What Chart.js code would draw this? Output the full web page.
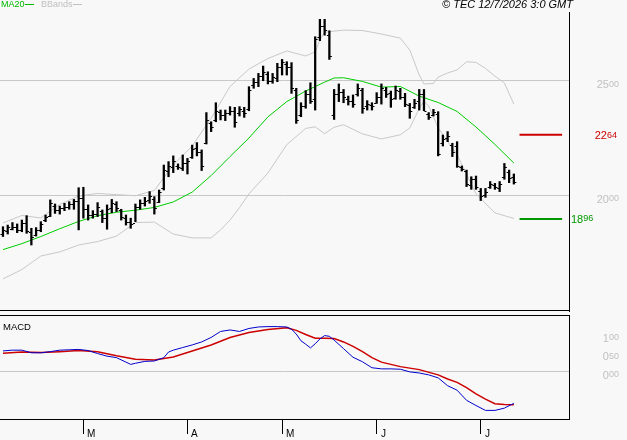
<!DOCTYPE html>
<html>
<head>
<meta charset="utf-8">
<script src="https://cdn.jsdelivr.net/npm/chart.js@4.4.0/dist/chart.umd.min.js"></script>
<style>
    html, body { margin: 0; padding: 0; background: #f8f8f8; }
    #wrap { position: relative; width: 627px; height: 440px; overflow: hidden; }
    #chart-price { position: absolute; left: 0; top: 0; }
    #chart-macd { position: absolute; left: 0; top: 312px; }
</style>
</head>
<body>
<div id="wrap">
    <canvas id="chart-price" width="627" height="316"></canvas>
    <canvas id="chart-macd" width="627" height="128"></canvas>
</div>
<script>
// Daily bars, Feb 5 -> Jul 10 (x = bar index)
const monthTicks = [17, 39, 59, 79, 101];
const monthLabels = ['M', 'A', 'M', 'J', 'J'];
const priceTicks = [2000, 2500];
const macdTicks = [0, 50, 100];

const highs = [
    1863, 1870, 1881, 1875, 1892, 1911, 1856, 1859, 1885, 1914,
    1980, 1962, 1953, 1965, 1972, 1982, 2033, 2035, 1958, 1933,
    1968, 1936, 1958, 1982, 1972, 1939, 1914, 1900, 1962, 1980,
    1991, 2016, 1994, 2023, 2132, 2147, 2172, 2137, 2176, 2161,
    2219, 2230, 2198, 2361, 2321, 2404, 2372, 2372, 2387, 2384,
    2387, 2384, 2474, 2510, 2532, 2564, 2539, 2532, 2576, 2593,
    2583, 2579, 2467, 2404, 2457, 2491, 2692, 2768, 2768, 2718,
    2462, 2486, 2462, 2433, 2438, 2486, 2467, 2413, 2404, 2448,
    2486, 2471, 2455, 2477, 2467, 2445, 2401, 2419, 2462, 2462,
    2361, 2375, 2365, 2263, 2278, 2227, 2234, 2128, 2110, 2081,
    2084, 2030, 2030, 2060, 2052, 2060, 2139, 2110, 2093
];
const lows = [
    1820, 1831, 1849, 1837, 1841, 1834, 1783, 1822, 1841, 1885,
    1907, 1921, 1918, 1933, 1939, 1939, 1849, 1900, 1892, 1900,
    1907, 1881, 1852, 1924, 1929, 1892, 1870, 1856, 1885, 1939,
    1953, 1965, 1918, 1968, 2023, 2081, 2099, 2113, 2108, 2093,
    2161, 2172, 2108, 2224, 2278, 2321, 2329, 2326, 2350, 2297,
    2346, 2340, 2369, 2467, 2474, 2500, 2486, 2489, 2496, 2525,
    2525, 2445, 2314, 2343, 2380, 2401, 2372, 2675, 2699, 2593,
    2331, 2409, 2404, 2394, 2384, 2433, 2358, 2372, 2372, 2401,
    2398, 2427, 2384, 2419, 2419, 2387, 2336, 2379, 2372, 2369,
    2331, 2346, 2172, 2215, 2234, 2169, 2122, 2106, 2038, 2026,
    2026, 1977, 1991, 2030, 2026, 2016, 2070, 2055, 2049
];
const opens = [
    1830, 1845, 1855, 1860, 1850, 1880, 1840, 1825, 1850, 1890,
    1910, 1955, 1935, 1945, 1950, 1960, 1975, 1990, 1940, 1915,
    1920, 1930, 1900, 1945, 1960, 1935, 1900, 1885, 1880, 1950,
    1965, 1980, 1985, 1970, 2030, 2105, 2125, 2130, 2120, 2140,
    2165, 2205, 2190, 2230, 2315, 2330, 2365, 2350, 2360, 2370,
    2360, 2370, 2375, 2480, 2495, 2520, 2530, 2500, 2510, 2560,
    2575, 2560, 2460, 2350, 2390, 2440, 2420, 2690, 2740, 2700,
    2350, 2440, 2450, 2420, 2410, 2440, 2460, 2390, 2395, 2405,
    2430, 2460, 2445, 2425, 2455, 2430, 2395, 2385, 2410, 2440,
    2355, 2350, 2355, 2230, 2250, 2220, 2215, 2125, 2105, 2045,
    2070, 2020, 2000, 2035, 2045, 2030, 2080, 2100, 2080
];
const closes = [
    1850, 1860, 1862, 1850, 1880, 1845, 1820, 1850, 1875, 1905,
    1965, 1935, 1945, 1950, 1960, 1975, 1990, 1940, 1915, 1920,
    1950, 1900, 1940, 1965, 1945, 1905, 1885, 1875, 1950, 1965,
    1975, 1995, 1945, 2015, 2110, 2130, 2150, 2125, 2140, 2150,
    2200, 2190, 2130, 2330, 2300, 2370, 2350, 2360, 2370, 2320,
    2375, 2360, 2460, 2495, 2520, 2540, 2500, 2515, 2560, 2580,
    2560, 2470, 2330, 2390, 2440, 2410, 2680, 2740, 2720, 2610,
    2440, 2450, 2430, 2410, 2400, 2470, 2380, 2400, 2390, 2430,
    2470, 2440, 2420, 2460, 2430, 2400, 2370, 2405, 2440, 2370,
    2340, 2365, 2180, 2245, 2260, 2190, 2130, 2115, 2050, 2070,
    2035, 1995, 2015, 2050, 2035, 2050, 2125, 2075, 2060
];

const maIdx = [0, 4, 8, 12, 16, 20, 24, 28, 32, 36, 40, 44, 48, 52, 56, 60, 64, 68, 70, 72, 76, 80, 84, 88, 92, 96, 100, 104, 108];
const maVals = [1763, 1789, 1820, 1854, 1886, 1911, 1926, 1935, 1947, 1971, 2014, 2086, 2169, 2250, 2342, 2409, 2455, 2494, 2512, 2513, 2497, 2472, 2475, 2433, 2405, 2366, 2298, 2222, 2141];

const upperIdx = [0, 4, 8, 12, 16, 20, 24, 28, 32, 36, 40, 44, 48, 52, 56, 60, 64, 66, 67, 68, 72, 76, 80, 84, 86, 88, 89, 91, 92, 94, 96, 98, 100, 102, 104, 106, 108];
const upperVals = [1879, 1912, 1901, 1960, 1997, 2008, 2003, 1998, 2021, 2132, 2215, 2337, 2475, 2551, 2597, 2630, 2608, 2626, 2678, 2712, 2721, 2719, 2704, 2686, 2634, 2525, 2486, 2488, 2516, 2534, 2547, 2583, 2580, 2554, 2520, 2490, 2398];

const lowerIdx = [0, 4, 8, 12, 16, 20, 24, 28, 32, 36, 40, 44, 46, 48, 50, 52, 56, 60, 64, 66, 68, 70, 72, 76, 80, 84, 86, 88, 89, 90, 92, 96, 100, 104, 108];
const lowerVals = [1635, 1676, 1735, 1753, 1783, 1798, 1822, 1881, 1883, 1831, 1814, 1814, 1849, 1892, 1946, 2006, 2097, 2221, 2292, 2299, 2269, 2297, 2308, 2268, 2246, 2264, 2294, 2379, 2411, 2390, 2294, 2177, 2007, 1923, 1899];

const resistance = 2264;
const support = 1896;

const macdIdx = [0, 2, 4, 6, 8, 10, 12, 14, 16, 18, 20, 22, 24, 26, 27, 28, 30, 32, 34, 35, 36, 38, 40, 42, 44, 46, 48, 50, 52, 54, 56, 58, 60, 61, 62, 63, 64, 65, 66, 67, 68, 69, 70, 72, 74, 76, 78, 80, 82, 84, 86, 88, 90, 92, 94, 96, 98, 100, 102, 104, 106, 108];
const macdVals = [55, 57, 57, 50, 50, 53, 57, 58, 59, 56, 48, 41, 37, 25, 19, 22, 27, 28, 37, 52, 57, 64, 71, 79, 91, 107, 111, 107, 115, 119, 120, 120, 119, 113, 100, 82, 73, 63, 74, 87, 96, 94, 84, 61, 38, 26, 10, 7, 7, 6, -1, -4, -9, -17, -38, -50, -77, -91, -104, -104, -98, -85];

const signalIdx = [0, 4, 8, 12, 16, 20, 24, 28, 32, 36, 40, 44, 48, 52, 56, 60, 62, 64, 66, 68, 70, 72, 74, 76, 78, 80, 84, 88, 92, 94, 96, 98, 100, 102, 104, 106, 108];
const signalVals = [49, 52, 51, 53, 56, 53, 42, 33, 31, 39, 55, 71, 91, 104, 112, 117, 110, 99, 89, 89, 88, 79, 67, 53, 37, 25, 13, 5, -9, -20, -29, -43, -60, -74, -86, -88, -89];

const X_MIN = -0.63;
const X_MAX = 119.66;
const FONT = '"Liberation Sans", Arial, sans-serif';
const LABEL_GREY = '#c0c0c0';

const pts = (idx, vals) => idx.map((x, k) => ({ x, y: vals[k] }));

// "2500" style label: last two digits drawn smaller
function splitLabel(ctx, text, x, top, color, align) {
    const head = text.slice(0, -2);
    const tail = text.slice(-2);
    ctx.font = `11px ${FONT}`;
    const wh = ctx.measureText(head).width;
    ctx.font = `9px ${FONT}`;
    const wt = ctx.measureText(tail).width;
    const x0 = align === 'right' ? x - wh - wt : x;
    ctx.fillStyle = color;
    ctx.textAlign = 'left';
    ctx.textBaseline = 'top';
    ctx.font = `11px ${FONT}`;
    ctx.fillText(head, x0, top);
    ctx.font = `9px ${FONT}`;
    ctx.fillText(tail, x0 + wh, top);
}

const priceExtras = {
    id: 'priceExtras',
    afterDatasetsDraw(chart) {
        const { ctx, scales: { x, y } } = chart;
        ctx.save();
        ctx.fillStyle = '#000';
        opens.forEach((o, i) => {
            const px = x.getPixelForValue(i);
            ctx.fillRect(px - 2.5, Math.round(y.getPixelForValue(o)), 2, 1);
            ctx.fillRect(px + 0.5, Math.round(y.getPixelForValue(closes[i])), 2, 1);
        });
        ctx.restore();
    },
    afterDraw(chart) {
        const { ctx, chartArea: a, scales: { y } } = chart;
        ctx.save();
        ctx.fillStyle = '#000';
        ctx.fillRect(a.left, Math.round(a.bottom) - 1, a.right - a.left, 1);

        priceTicks.forEach(v => splitLabel(ctx, String(v), 619, y.getPixelForValue(v) - 1, LABEL_GREY, 'right'));
        splitLabel(ctx, String(resistance), 617, y.getPixelForValue(resistance) - 4, '#cc0000', 'right');
        splitLabel(ctx, String(support), a.right + 2, y.getPixelForValue(support) - 5, '#009900', 'left');

        // legend
        ctx.textBaseline = 'middle';
        ctx.textAlign = 'left';
        ctx.font = `9px ${FONT}`;
        ctx.fillStyle = '#00bb00';
        ctx.fillText('MA20', 1, 5);
        ctx.fillRect(25, 4, 9, 1);
        ctx.fillStyle = LABEL_GREY;
        ctx.fillText('BBands', 41, 5);
        ctx.fillRect(73, 4, 9, 1);

        ctx.fillStyle = '#000';
        ctx.font = `italic 11px ${FONT}`;
        ctx.fillText('\u00a9 TEC 12/7/2026 3:0 GMT', 442, 5);
        ctx.restore();
    }
};

const macdExtras = {
    id: 'macdExtras',
    afterDraw(chart) {
        const { ctx, chartArea: a, scales: { x, y } } = chart;
        ctx.save();
        ctx.fillStyle = '#000';
        ctx.fillRect(a.left, Math.round(a.top), a.right - a.left, 1);

        ctx.font = `9.5px ${FONT}`;
        ctx.textBaseline = 'middle';
        ctx.fillText('MACD', 3, a.top + 12);

        macdTicks.forEach(v => {
            const txt = v === 0 ? '000' : v < 100 ? '0' + v : String(v);
            splitLabel(ctx, txt, 619, y.getPixelForValue(v) - 1, LABEL_GREY, 'right');
        });

        ctx.fillStyle = '#000';
        ctx.font = `10px ${FONT}`;
        ctx.textBaseline = 'bottom';
        monthTicks.forEach((v, k) => ctx.fillText(monthLabels[k], Math.round(x.getPixelForValue(v)) + 4, 127));
        ctx.restore();
    }
};

new Chart(document.getElementById('chart-price'), {
    type: 'line',
    data: {
        datasets: [
            { type: 'bar', label: 'Price', data: highs.map((h, i) => ({ x: i, y: [lows[i], h] })), backgroundColor: '#000', barThickness: 1.6, borderWidth: 0 },
            { label: 'MA20', data: pts(maIdx, maVals), borderColor: '#00cc00', borderWidth: 1, pointRadius: 0 },
            { label: 'BBands upper', data: pts(upperIdx, upperVals), borderColor: '#c8c8c8', borderWidth: 1, pointRadius: 0 },
            { label: 'BBands lower', data: pts(lowerIdx, lowerVals), borderColor: '#c8c8c8', borderWidth: 1, pointRadius: 0 },
            { label: 'Resistance', data: [{ x: 109.2, y: resistance }, { x: 118.2, y: resistance }], borderColor: '#cc0000', borderWidth: 2, pointRadius: 0 },
            { label: 'Support', data: [{ x: 109.2, y: support }, { x: 118.2, y: support }], borderColor: '#009900', borderWidth: 2, pointRadius: 0 }
        ]
    },
    options: {
        responsive: false,
        animation: false,
        layout: { padding: { top: 12, bottom: 5, left: 0, right: 0 } },
        plugins: { legend: { display: false }, tooltip: { enabled: false } },
        scales: {
            x: { type: 'linear', min: X_MIN, max: X_MAX, offset: false, display: false },
            y: {
                position: 'right',
                min: 1495,
                max: 2800,
                afterBuildTicks: s => { s.ticks = priceTicks.map(v => ({ value: v })); },
                afterFit: s => { s.width = 58; },
                ticks: { display: false },
                grid: { color: '#c8c8c8', drawTicks: false },
                border: { display: true, color: '#000' }
            }
        }
    },
    plugins: [priceExtras]
});

new Chart(document.getElementById('chart-macd'), {
    type: 'line',
    data: {
        datasets: [
            { label: 'MACD', data: pts(macdIdx, macdVals), borderColor: '#0000cc', borderWidth: 1, pointRadius: 0 },
            { label: 'Signal', data: pts(signalIdx, signalVals), borderColor: '#cc0000', borderWidth: 1.5, pointRadius: 0 }
        ]
    },
    options: {
        responsive: false,
        animation: false,
        layout: { padding: { top: 3, bottom: 0, left: 0, right: 0 } },
        plugins: { legend: { display: false }, tooltip: { enabled: false } },
        scales: {
            x: {
                type: 'linear', min: X_MIN, max: X_MAX, offset: false,
                afterBuildTicks: s => { s.ticks = monthTicks.map(v => ({ value: v })); },
                afterFit: s => { s.height = 21; },
                ticks: { display: false },
                grid: { drawOnChartArea: false, drawTicks: true, tickLength: 15, color: '#000' },
                border: { display: true, color: '#000' }
            },
            y: {
                position: 'right',
                min: -127,
                max: 151,
                afterBuildTicks: s => { s.ticks = macdTicks.map(v => ({ value: v })); },
                afterFit: s => { s.width = 58; },
                ticks: { display: false },
                grid: { color: c => (c.tick && c.tick.value === 0 ? '#c8c8c8' : 'rgba(0,0,0,0)'), drawTicks: false },
                border: { display: true, color: '#000' }
            }
        }
    },
    plugins: [macdExtras]
});
</script>
</body>
</html>
